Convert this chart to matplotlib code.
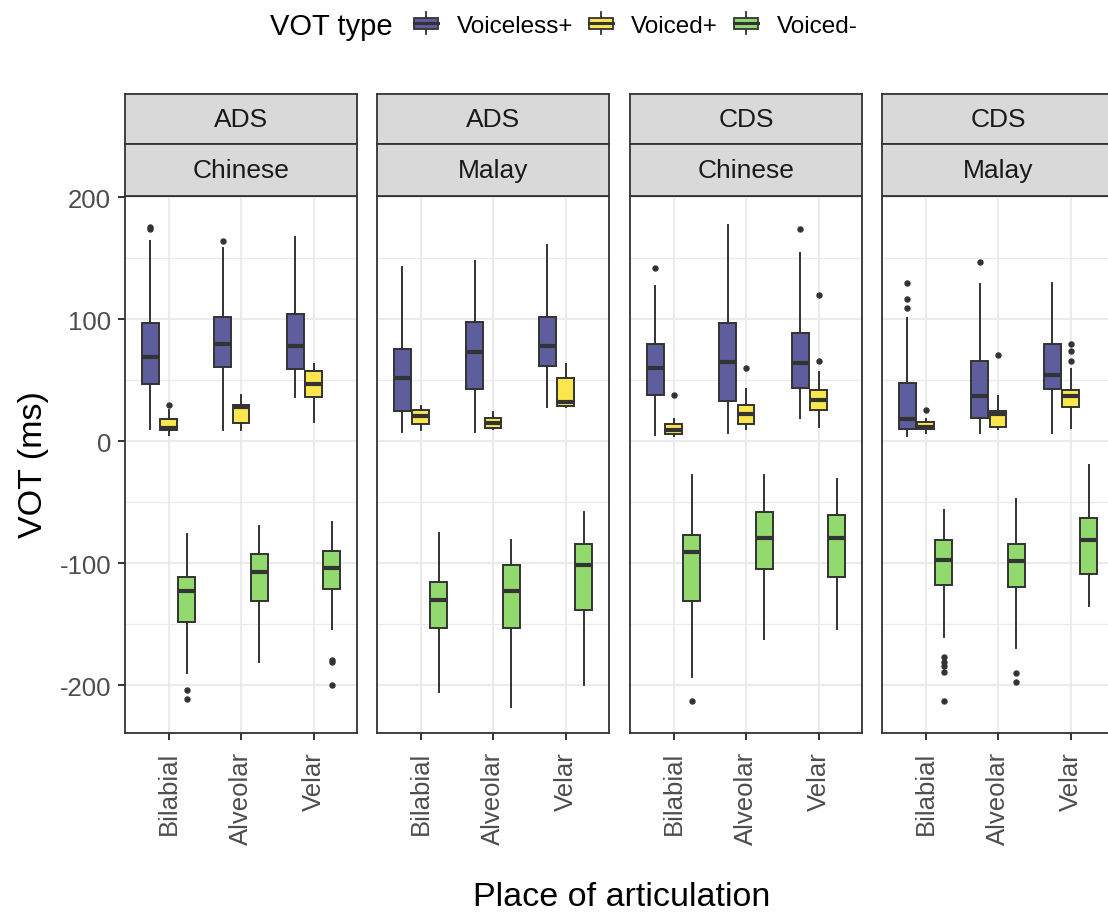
import matplotlib

matplotlib.use("Agg")
import matplotlib.pyplot as plt
import numpy as np
from matplotlib.legend_handler import HandlerBase
from matplotlib.lines import Line2D
from matplotlib.patches import Patch, Rectangle

plt.rcParams["font.family"] = ["Liberation Sans", "DejaVu Sans"]

W, H = 1108, 920

REGISTERS = ["ADS", "ADS", "CDS", "CDS"]
LANGUAGES = ["Chinese", "Malay", "Chinese", "Malay"]
PLACES = ["Bilabial", "Alveolar", "Velar"]
VOT_TYPES = ["Voiceless+", "Voiced+", "Voiced-"]
COLORS = ["#5E5E9E", "#FBE64D", "#93DA6E"]

# (whisker low, q1, median, q3, whisker high) per panel, per place
voiceless_plus = [
    [(10, 47, 69, 97, 164), (9, 61, 80, 102, 158), (36, 59, 78, 104, 167)],
    [(8, 25, 52, 76, 143), (8, 43, 73, 98, 148), (28, 62, 78, 102, 161)],
    [(5, 38, 60, 80, 127), (7, 33, 65, 97, 177), (19, 44, 64, 89, 154)],
    [(4, 10, 18, 48, 101), (7, 19, 37, 66, 129), (7, 43, 54, 80, 130)],
]
voiced_plus = [
    [(5, 9, 11, 18, 26), (9, 15, 28, 30, 38), (16, 36, 47, 58, 63)],
    [(9, 14, 21, 26, 29), (10, 11, 15, 19, 24), (28, 29, 32, 52, 63)],
    [(4, 6, 9, 14, 18), (10, 14, 22, 30, 43), (12, 26, 34, 42, 57)],
    [(7, 10, 12, 16, 18), (10, 12, 22, 25, 37), (11, 28, 37, 42, 59)],
]
voiced_minus = [
    [(-190, -148, -123, -111, -76), (-181, -131, -107, -92, -69), (-154, -121, -104, -90, -66)],
    [(-205, -153, -130, -115, -75), (-218, -153, -123, -101, -81), (-200, -138, -101, -84, -58)],
    [(-193, -131, -91, -77, -28), (-162, -105, -79, -58, -28), (-154, -111, -79, -60, -31)],
    [(-160, -118, -97, -81, -56), (-169, -119, -98, -84, -47), (-135, -109, -81, -63, -19)],
]

# outliers per panel, per place
voiceless_plus_out = [
    [[174, 176], [164], []],
    [[], [], []],
    [[142], [], [174]],
    [[130, 117, 109], [147], []],
]
voiced_plus_out = [
    [[30], [], []],
    [[], [], []],
    [[38], [60], [120, 66]],
    [[26], [71], [80, 74, 66]],
]
voiced_minus_out = [
    [[-204, -211], [], [-179, -181, -200]],
    [[], [], []],
    [[-213], [], []],
    [[-177, -181, -184, -189, -213], [-190, -197], []],
]

SUMMARIES = [voiceless_plus, voiced_plus, voiced_minus]
OUTLIERS = [voiceless_plus_out, voiced_plus_out, voiced_minus_out]

DARK = "#333333"


class BoxKey(HandlerBase):
    """Legend key drawn like a little boxplot."""

    def create_artists(self, legend, orig_handle, xdescent, ydescent,
                       width, height, fontsize, trans):
        x0, y0 = -xdescent, -ydescent
        cx = x0 + width / 2
        whisk = Line2D([cx, cx], [y0 - 0.25 * height, y0 + 1.25 * height],
                       color=DARK, lw=1.3, transform=trans)
        box = Rectangle((x0, y0 + 0.1 * height), width, 0.8 * height,
                        facecolor=orig_handle.get_facecolor(), edgecolor=DARK,
                        lw=1.3, transform=trans)
        med = Line2D([x0, x0 + width], [y0 + height / 2] * 2,
                     color=DARK, lw=2.2, transform=trans)
        return [whisk, box, med]


fig = plt.figure(figsize=(W / 100, H / 100), dpi=100)

panel_w = 232
lefts = [125, 377, 630, 882]
top_px, bot_px = 197, 734

for p in range(4):
    ax = fig.add_axes([lefts[p] / W, (H - bot_px) / H, panel_w / W,
                       (bot_px - top_px) / H])
    for t in range(3):
        stats = []
        for k in range(len(PLACES)):
            lo, q1, med, q3, hi = SUMMARIES[t][p][k]
            stats.append(dict(whislo=lo, q1=q1, med=med, q3=q3, whishi=hi,
                              fliers=OUTLIERS[t][p][k]))
        pos = np.arange(len(PLACES)) + (t - 1) * 0.25
        ax.bxp(stats, positions=pos, widths=0.232, patch_artist=True,
               showcaps=False,
               boxprops=dict(facecolor=COLORS[t], edgecolor=DARK, linewidth=1.4),
               medianprops=dict(color=DARK, linewidth=3.0, solid_capstyle="butt"),
               whiskerprops=dict(color=DARK, linewidth=1.4),
               flierprops=dict(marker="o", markerfacecolor=DARK,
                               markeredgecolor=DARK, markersize=3.6))
    ax.set_xlim(-0.6, 2.6)
    ax.set_ylim(-239, 201)
    ax.set_xticks(range(len(PLACES)))
    ax.set_xticklabels(PLACES, rotation=90, va="top", ha="center")
    ax.set_yticks([-200, -100, 0, 100, 200])
    ax.set_yticks([-150, -50, 50, 150], minor=True)
    ax.grid(which="major", color="#EBEBEB", lw=1.5)
    ax.grid(which="minor", axis="y", color="#EBEBEB", lw=0.9)
    ax.set_axisbelow(True)
    ax.tick_params(axis="both", which="major", length=5, width=1.4, color=DARK,
                   labelsize=18.5, labelcolor="#4D4D4D", pad=5)
    ax.tick_params(axis="x", pad=8)
    ax.tick_params(axis="y", which="minor", length=0)
    if p == 0:
        ax.set_yticklabels(["-200", "-100", "0", "100", "200"])
    else:
        ax.tick_params(axis="y", left=False, labelleft=False)
    for s in ax.spines.values():
        s.set_color(DARK)
        s.set_linewidth(1.3)

    # facet strips
    for label, (y1, y2) in [(REGISTERS[p], (95, 145)), (LANGUAGES[p], (145, 197))]:
        sax = fig.add_axes([lefts[p] / W, (H - y2) / H, panel_w / W, (y2 - y1) / H])
        sax.set_facecolor("#D9D9D9")
        sax.set_xticks([])
        sax.set_yticks([])
        for s in sax.spines.values():
            s.set_color(DARK)
            s.set_linewidth(1.3)
        sax.text(0.5, 0.5, label, ha="center", va="center", fontsize=19,
                 color="#1A1A1A", transform=sax.transAxes)

fig.text(34 / W, 1 - 465 / H, "VOT (ms)", rotation=90, ha="center",
         va="center", fontsize=24.5)
fig.text(622 / W, 1 - 898 / H, "Place of articulation", ha="center",
         va="center", fontsize=24.5)

# legend on top
fig.text(270 / W, 1 - 27 / H, "VOT type", ha="left", va="center", fontsize=21)
handles = [Patch(facecolor=c, label=lab) for c, lab in zip(COLORS, VOT_TYPES)]
fig.legend(handles=handles, loc="center left", bbox_to_anchor=(414 / W, 1 - 27 / H),
           ncol=3, frameon=False, fontsize=17.5, handlelength=1.0,
           handleheight=0.55, handletextpad=0.75, columnspacing=0.65,
           borderaxespad=0, borderpad=0,
           handler_map={Patch: BoxKey()})

fig.savefig("out.png", dpi=100)
